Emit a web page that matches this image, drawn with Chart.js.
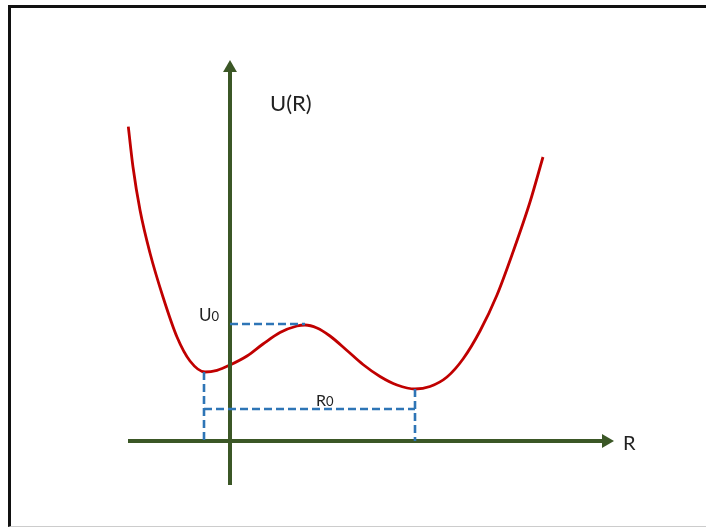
<!DOCTYPE html>
<html>
<head>
<meta charset="utf-8">
<script src="https://cdn.jsdelivr.net/npm/chart.js@4/dist/chart.umd.min.js"></script>
<style>
  html, body { margin: 0; padding: 0; background: #fff; }
  #wrap { position: relative; width: 706px; height: 527px; overflow: hidden; }
  #potential { position: absolute; left: 0; top: 0; }
  #frame {
    position: absolute; left: 8px; top: 5px; width: 700px; height: 518px;
    border-left: 3px solid #111; border-top: 3px solid #111; border-bottom: 1px solid #ccc;
    pointer-events: none;
  }
</style>
</head>
<body>
<div id="wrap">
  <canvas id="potential" width="706" height="527"></canvas>
  <div id="frame"></div>
</div>
<script>
"use strict";

// U(R) curve (R, U in arbitrary units)
var curveR = [-10.17, -9.7, -9.0, -8.0, -6.7, -5.3, -4.0, -2.5, -1.3, 0, 1.7, 3.3, 5.0, 6.7, 7.5, 8.7, 10.0, 11.7, 13.3, 15.0, 16.7, 18.5, 20.0, 21.7, 23.3, 25.0, 26.7, 28.3, 30.0, 31.3];
var curveU = [31.43, 27.4, 23.1, 18.8, 14.4, 10.4, 8.0, 6.9, 7.07, 7.6, 8.5, 9.7, 10.85, 11.5, 11.6, 11.3, 10.5, 9.05, 7.65, 6.45, 5.6, 5.2, 5.45, 6.4, 8.2, 11.0, 14.6, 18.9, 23.9, 28.4];

// axes extents
var rAxisRange = [-10.2, 37.6];
var uAxisRange = [-4.4, 37.3];

// marked points
var leftMin = { r: -2.6, u: 6.9 };
var barrier = { r: 7.5, u: 11.7 };
var rightMin = { r: 18.5, u: 5.2 };
var r0Level = 3.2;

var COLORS = {
  axis: '#3B5726',
  curve: '#C00000',
  guide: '#2E75B6',
  text: '#222'
};

var toPoints = function (xs, ys) {
  var pts = [];
  for (let i = 0; i < xs.length; i++) {
    pts.push({ x: xs[i], y: ys[i] });
  }
  return pts;
};

var guide = function (pts) {
  return {
    data: pts,
    borderColor: COLORS.guide,
    borderWidth: 2.6,
    borderDash: [8, 4],
    pointRadius: 0,
    fill: false
  };
};

var arrow = function (pts, rotation) {
  return {
    data: pts,
    borderColor: COLORS.axis,
    backgroundColor: COLORS.axis,
    borderWidth: 4,
    pointStyle: 'triangle',
    pointRotation: rotation,
    pointRadius: [0, 8],
    pointBorderWidth: 0,
    fill: false
  };
};

var labelsPlugin = {
  id: 'labels',
  afterDatasetsDraw: function (chart) {
    var ctx = chart.ctx;
    var xs = chart.scales.x, ys = chart.scales.y;
    var px = function (v) { return xs.getPixelForValue(v); };
    var py = function (v) { return ys.getPixelForValue(v); };
    ctx.save();
    ctx.fillStyle = COLORS.text;
    ctx.textBaseline = 'alphabetic';

    ctx.font = '22px Lato';
    ctx.textAlign = 'left';
    ctx.fillText('U(R)', px(4.0), py(33.0));

    ctx.font = '20px Lato';
    ctx.fillText('R', px(39.3), py(-0.9));

    // U0
    ctx.font = '17px Lato';
    var uw = ctx.measureText('U').width;
    ctx.font = '13px Lato';
    var zw = ctx.measureText('0').width;
    var ux = px(-1.1) - uw - zw;
    ctx.font = '17px Lato';
    ctx.fillText('U', ux, py(12.0));
    ctx.font = '13px Lato';
    ctx.fillText('0', ux + uw, py(12.0));

    // R0
    ctx.font = '16px Lato';
    var rw = ctx.measureText('R').width;
    ctx.fillText('R', px(8.6), py(r0Level + 0.3));
    ctx.font = '13px Lato';
    ctx.fillText('0', px(8.6) + rw, py(r0Level + 0.3));
    ctx.restore();
  }
};

var load_potential_chart = function () {
  var el = document.getElementById('potential').getContext('2d');
  var datasets = [
    guide([{ x: leftMin.r, y: leftMin.u }, { x: leftMin.r, y: 0 }]),
    guide([{ x: leftMin.r, y: r0Level }, { x: rightMin.r, y: r0Level }]),
    guide([{ x: rightMin.r, y: rightMin.u }, { x: rightMin.r, y: 0 }]),
    guide([{ x: 0, y: barrier.u }, { x: barrier.r, y: barrier.u }]),
    arrow([{ x: rAxisRange[0], y: 0 }, { x: rAxisRange[1], y: 0 }], 90),
    arrow([{ x: 0, y: uAxisRange[0] }, { x: 0, y: uAxisRange[1] }], 0),
    {
      data: toPoints(curveR, curveU),
      borderColor: COLORS.curve,
      borderWidth: 2.8,
      pointRadius: 0,
      cubicInterpolationMode: 'monotone',
      fill: false
    }
  ];
  return new Chart(el, {
    type: 'line',
    data: { datasets: datasets },
    options: {
      responsive: false,
      animation: false,
      layout: { padding: 0, autoPadding: false },
      clip: false,
      plugins: { legend: { display: false }, tooltip: { enabled: false } },
      scales: {
        x: { type: 'linear', min: -23, max: 47.6, display: false },
        y: { type: 'linear', min: -8.6, max: 44.1, display: false }
      }
    },
    plugins: [labelsPlugin]
  });
};

load_potential_chart();
</script>
</body>
</html>
